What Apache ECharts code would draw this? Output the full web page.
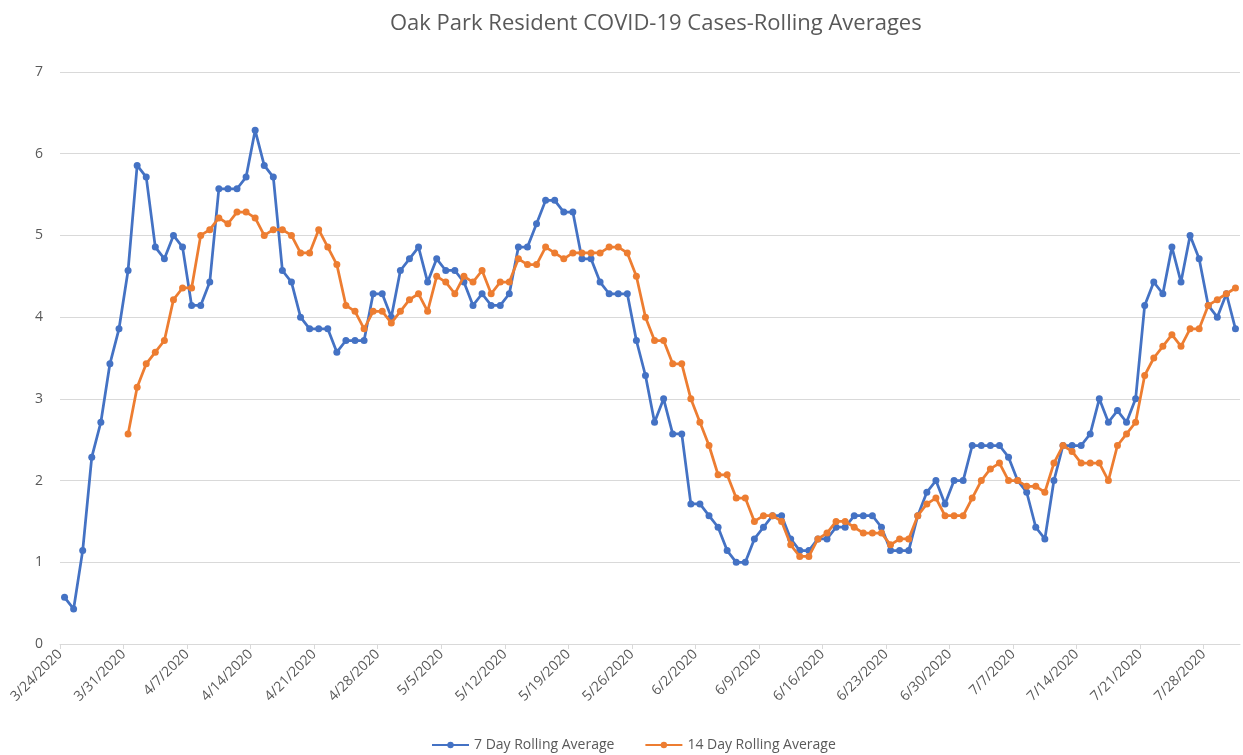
<!DOCTYPE html>
<html>
<head>
<meta charset="utf-8">
<script src="https://cdn.jsdelivr.net/npm/echarts@6/dist/echarts.min.js"></script>
<style>
  html, body { margin: 0; padding: 0; background: #ffffff; }
  #chart { width: 1243px; height: 755px; }
</style>
</head>
<body>
<div id="chart"></div>
<script>
// Tick labels on the date axis (every 7 days, starting 3/24/2020)
const tickLabels = ['3/24/2020','3/31/2020','4/7/2020','4/14/2020','4/21/2020','4/28/2020','5/5/2020',
  '5/12/2020','5/19/2020','5/26/2020','6/2/2020','6/9/2020','6/16/2020','6/23/2020','6/30/2020',
  '7/7/2020','7/14/2020','7/21/2020','7/28/2020'];

// Daily values, 3/24/2020 .. 7/31/2020 (130 days)
const sevenDay = [
  0.571,0.429,1.143,2.286,2.714,3.429,3.857,
  4.571,5.857,5.714,4.857,4.714,5.0,4.857,
  4.143,4.143,4.429,5.571,5.571,5.571,5.714,
  6.286,5.857,5.714,4.571,4.429,4.0,3.857,
  3.857,3.857,3.571,3.714,3.714,3.714,4.286,
  4.286,4.0,4.571,4.714,4.857,4.429,4.714,
  4.571,4.571,4.429,4.143,4.286,4.143,4.143,
  4.286,4.857,4.857,5.143,5.429,5.429,5.286,
  5.286,4.714,4.714,4.429,4.286,4.286,4.286,
  3.714,3.286,2.714,3.0,2.571,2.571,1.714,
  1.714,1.571,1.429,1.143,1.0,1.0,1.286,
  1.429,1.571,1.571,1.286,1.143,1.143,1.286,
  1.286,1.429,1.429,1.571,1.571,1.571,1.429,
  1.143,1.143,1.143,1.571,1.857,2.0,1.714,
  2.0,2.0,2.429,2.429,2.429,2.429,2.286,
  2.0,1.857,1.429,1.286,2.0,2.429,2.429,
  2.429,2.571,3.0,2.714,2.857,2.714,3.0,
  4.143,4.429,4.286,4.857,4.429,5.0,4.714,
  4.143,4.0,4.286,3.857
];
const fourteenDay = [
  null,null,null,null,null,null,null,
  2.571,3.143,3.429,3.571,3.714,4.214,4.357,
  4.357,5.0,5.071,5.214,5.143,5.286,5.286,
  5.214,5.0,5.071,5.071,5.0,4.786,4.786,
  5.071,4.857,4.643,4.143,4.071,3.857,4.071,
  4.071,3.929,4.071,4.214,4.286,4.071,4.5,
  4.429,4.286,4.5,4.429,4.571,4.286,4.429,
  4.429,4.714,4.643,4.643,4.857,4.786,4.714,
  4.786,4.786,4.786,4.786,4.857,4.857,4.786,
  4.5,4.0,3.714,3.714,3.429,3.429,3.0,
  2.714,2.429,2.071,2.071,1.786,1.786,1.5,
  1.571,1.571,1.5,1.214,1.071,1.071,1.286,
  1.357,1.5,1.5,1.429,1.357,1.357,1.357,
  1.214,1.286,1.286,1.571,1.714,1.786,1.571,
  1.571,1.571,1.786,2.0,2.143,2.214,2.0,
  2.0,1.929,1.929,1.857,2.214,2.429,2.357,
  2.214,2.214,2.214,2.0,2.429,2.571,2.714,
  3.286,3.5,3.643,3.786,3.643,3.857,3.857,
  4.143,4.214,4.286,4.357
];
const yTicks = [0,1,2,3,4,5,6,7];
const seriesNames = ['7 Day Rolling Average', '14 Day Rolling Average'];

// Each day occupies one unit band on the axis; points sit in the band centre.
function toPairs(arr) {
  const out = [];
  arr.forEach((v, i) => { if (v !== null) out.push([i + 0.5, v]); });
  return out;
}

const FONT = '"Open Sans", "Liberation Sans", sans-serif';
const TXT = '#595959';
const chart = echarts.init(document.getElementById('chart'), null, { renderer: 'canvas' });

chart.setOption({
  animation: false,
  backgroundColor: '#ffffff',
  title: {
    text: 'Oak Park Resident COVID-19 Cases-Rolling Averages',
    left: 385,
    top: 8,
    textStyle: { fontFamily: FONT, fontSize: 22, fontWeight: 'normal', color: TXT }
  },
  legend: {
    bottom: -2,
    left: 426,
    itemWidth: 37,
    itemHeight: 8,
    itemGap: 30,
    textStyle: { fontFamily: FONT, fontSize: 14, color: TXT },
    data: seriesNames
  },
  grid: { left: 60, right: 3, top: 72, bottom: 111, containLabel: false },
  xAxis: {
    type: 'value',
    min: 0,
    max: tickLabels.length * 7 - 3,
    interval: 7,
    splitLine: { show: false },
    axisLine: { show: true, lineStyle: { color: '#d9d9d9', width: 1 } },
    axisTick: { show: true, length: 5, lineStyle: { color: '#d9d9d9' } },
    axisLabel: {
      rotate: 45,
      margin: 8,
      fontFamily: FONT,
      fontSize: 14,
      color: TXT,
      showMaxLabel: false,
      formatter: function (v) {
        const k = Math.round(v / 7);
        return (v % 7 === 0 && tickLabels[k]) ? tickLabels[k] : '';
      }
    }
  },
  yAxis: {
    type: 'value',
    min: yTicks[0],
    max: yTicks[yTicks.length - 1],
    interval: 1,
    axisLine: { show: false },
    axisTick: { show: false },
    splitLine: { lineStyle: { color: '#d9d9d9', width: 1 } },
    axisLabel: { fontFamily: FONT, fontSize: 14, color: TXT, margin: 17 }
  },
  series: [
    {
      name: seriesNames[0],
      type: 'line',
      data: toPairs(sevenDay),
      symbol: 'circle',
      symbolSize: 7,
      color: '#4472C4',
      lineStyle: { width: 2.75, color: '#4472C4' },
      itemStyle: { color: '#4472C4' },
      z: 2
    },
    {
      name: seriesNames[1],
      type: 'line',
      data: toPairs(fourteenDay),
      symbol: 'circle',
      symbolSize: 7,
      color: '#ED7D31',
      lineStyle: { width: 2.75, color: '#ED7D31' },
      itemStyle: { color: '#ED7D31' },
      z: 3
    }
  ]
});
</script>
</body>
</html>
